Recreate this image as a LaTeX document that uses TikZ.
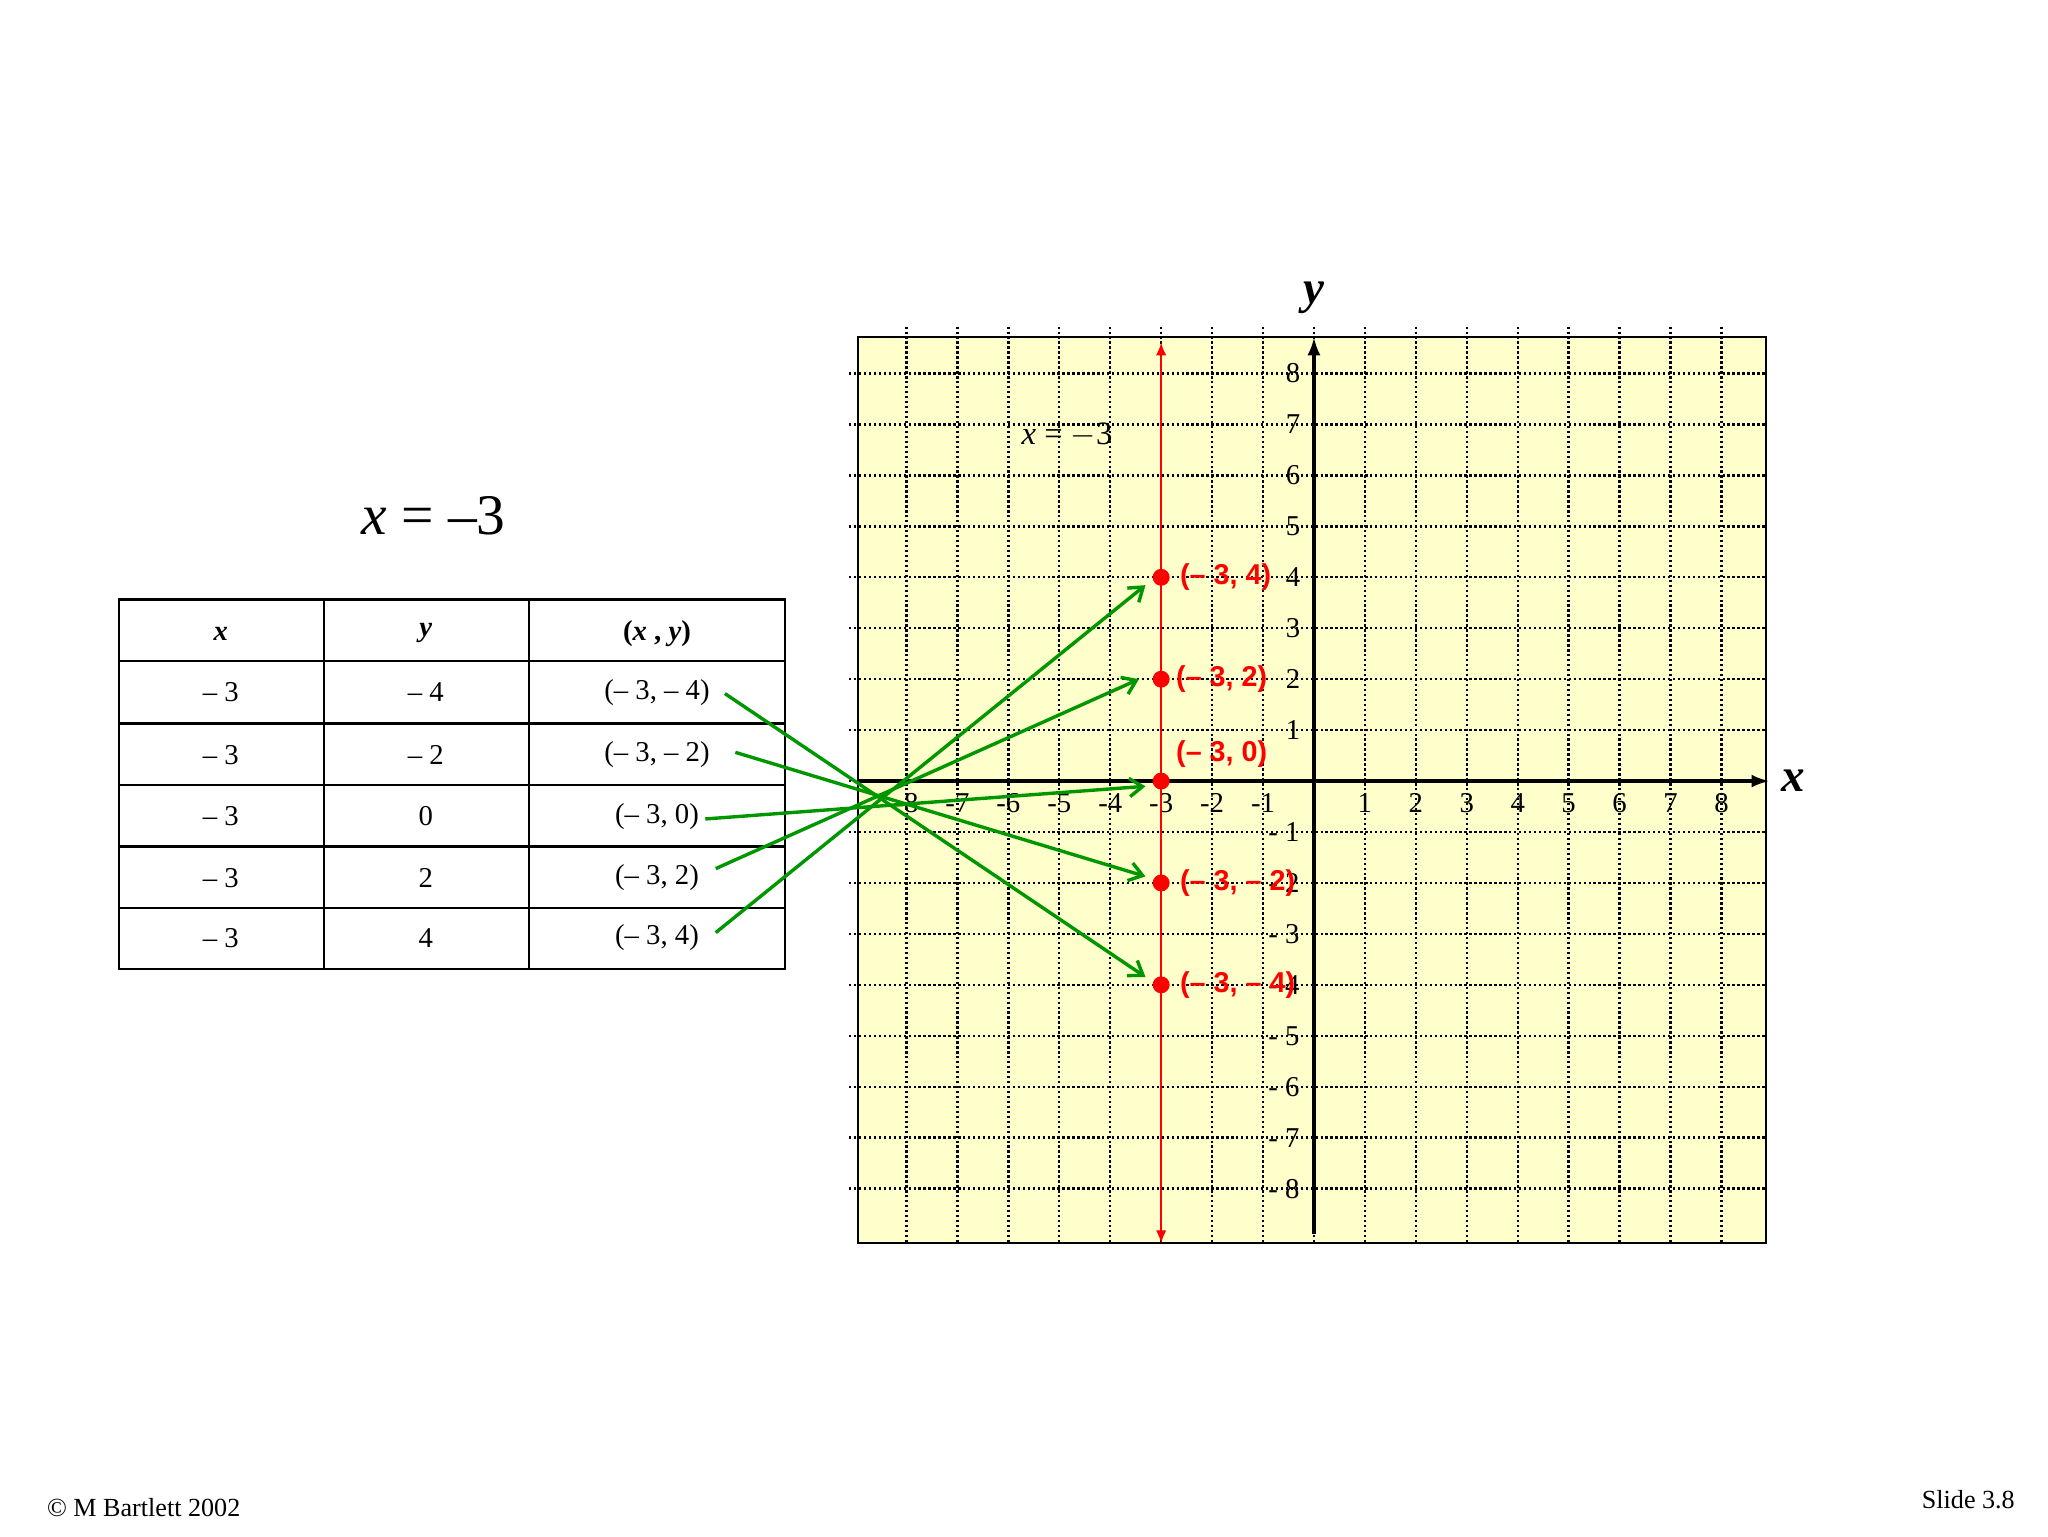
\documentclass[tikz,border=0pt]{standalone}
\usepackage{fontspec}
\setmainfont{Liberation Serif}
\setsansfont{Liberation Sans}
\usetikzlibrary{arrows.meta}
\definecolor{paper}{RGB}{255,255,204}
\definecolor{gr}{RGB}{0,150,0}
\begin{document}
\begin{tikzpicture}[x=1pt,y=-1pt,
  tab/.style={font=\fontsize{22}{24}\selectfont},
  tick/.style={font=\fontsize{22}{22}\selectfont},
  ptlab/.style={font=\sffamily\bfseries\fontsize{22}{22}\selectfont,text=red,anchor=west},
  dot/.style={circle,fill=red,inner sep=0pt,minimum size=13pt},
  garr/.style={gr,line width=2.6pt,-{Straight Barb[length=10pt,width=14pt]}}]
\useasboundingbox (0,0) rectangle (1568,1176);
% graph paper
\fill[paper] (657,258) rectangle (1352,952);
\foreach \k in {-8,...,8}{
  \draw[dotted,line width=1.8pt] ({1006+39*\k},250) -- ({1006+39*\k},952);
  \draw[dotted,line width=1.8pt] (650,{598-39*\k}) -- (1352,{598-39*\k});
}
\draw[line width=1.5pt] (657,258) rectangle (1352,952);
% axes
\draw[line width=3pt,-{Latex[length=14pt,width=10pt]}] (657,598) -- (1355,598);
\draw[line width=3pt,-{Latex[length=14pt,width=10pt]}] (1006,945) -- (1006,258);
\node[font=\bfseries\itshape\fontsize{36}{36}\selectfont] (xl) at (1373,598) {x};
\node[font=\bfseries\itshape\fontsize{36}{36}\selectfont] (yl) at (1006,228) {y};
\foreach \k in {-8,...,-1}{\node[tick] at ({1006+39*\k},615) {\k};}
\foreach \k in {1,...,8}{\node[tick] at ({1006+39*\k},615) {\k};}
\foreach \k in {1,...,8}{\node[tick] at (990,{598-39*\k}) {\k};}
\foreach \k in {1,...,8}{\node[tick] at (983,{598+39*\k}) {- \k};}
\node[font=\fontsize{25}{25}\selectfont] (eq2) at (817,333) {\textit{x} = $-$3};
% red line
\draw[red,line width=1.8pt,{Latex[length=10pt,width=8pt]}-{Latex[length=10pt,width=8pt]}] (889,952) -- (889,262);
\node[dot] (p4) at (889,442) {};
\node[dot] (p2) at (889,520) {};
\node[dot] (p0) at (889,598) {};
\node[dot] (m2) at (889,676) {};
\node[dot] (m4) at (889,754) {};
\node[ptlab] at (900,442) {(– 3, 4)};
\node[ptlab] at (897,520) {(– 3, 2)};
\node[ptlab] at (897,577) {(– 3, 0)};
\node[ptlab] at (900,676) {(– 3, – 2)};
\node[ptlab] at (900,754) {(– 3, – 4)};
% title
\node[font=\fontsize{44}{44}\selectfont] (title) at (332,395) {\textit{x} = –3};
% table
\draw[line width=1.8pt] (91,459) rectangle (601,742);
\foreach \x in {248,405}{\draw[line width=1.8pt] (\x,459) -- (\x,742);}
\foreach \y in {506,554,601,648,695}{\draw[line width=1.8pt] (91,\y) -- (601,\y);}
\node[tab,font=\bfseries\itshape\fontsize{22}{24}\selectfont] at (169,485) {x};
\node[tab,font=\bfseries\itshape\fontsize{22}{24}\selectfont] at (326,485) {y};
\node[tab,font=\bfseries\fontsize{22}{24}\selectfont] at (503,485) {(\textit{x} , \textit{y})};
\foreach \yv/\r in {– 4/530,– 2/578,0/625,2/672,4/718}{
  \node[tab] at (169,\r) {– 3};
  \node[tab] at (326,\r) {\yv};
}
\node[tab] (t1) at (503,530) {(– 3, – 4)};
\node[tab] (t2) at (503,578) {(– 3, – 2)};
\node[tab] (t3) at (503,625) {(– 3, 0)};
\node[tab] (t4) at (503,672) {(– 3, 2)};
\node[tab] (t5) at (503,718) {(– 3, 4)};
% green arrows
\coordinate (s1) at (555,531); \coordinate (e1) at (877,748);
\coordinate (s2) at (563,576); \coordinate (e2) at (877,671);
\coordinate (s3) at (540,627); \coordinate (e3) at (877,602);
\coordinate (s4) at (548,665); \coordinate (e4) at (872,520);
\coordinate (s5) at (548,714); \coordinate (e5) at (877,448);
\foreach \i in {1,...,5}{\draw[garr] (s\i) -- (e\i);}
% footer
\node[font=\fontsize{20}{20}\selectfont] (c) at (110,1154) {© M Bartlett 2002};
\node[font=\fontsize{20}{20}\selectfont] (s) at (1507,1148) {Slide 3.8};
\end{tikzpicture}
\end{document}
